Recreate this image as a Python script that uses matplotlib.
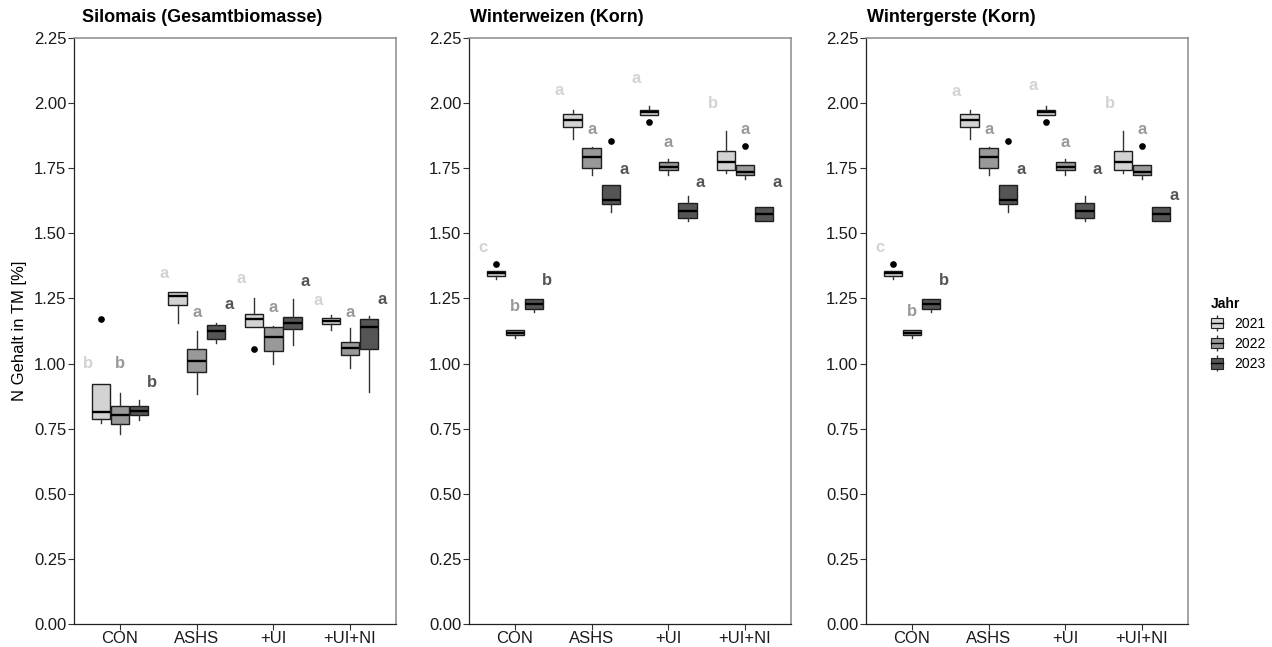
import numpy as np
import matplotlib
matplotlib.use("Agg")
import matplotlib.pyplot as plt
from matplotlib.patches import Patch
from matplotlib.lines import Line2D
from matplotlib.legend_handler import HandlerTuple

plt.rcParams['font.family'] = ['Liberation Sans', 'DejaVu Sans']

categories = ['CON', 'ASHS', '+UI', '+UI+NI']
years = ['2021', '2022', '2023']
fills = ['#d3d3d3', '#999999', '#555555']

# box stats, order: CON 21/22/23, ASHS 21/22/23, +UI ..., +UI+NI ...
mais_q1 = [0.786, 0.767, 0.801, 1.223, 0.966, 1.093, 1.142, 1.047, 1.132, 1.152, 1.033, 1.055]
mais_med = [0.815, 0.804, 0.819, 1.260, 1.011, 1.125, 1.170, 1.101, 1.155, 1.164, 1.059, 1.139]
mais_q3 = [0.922, 0.837, 0.837, 1.274, 1.055, 1.148, 1.192, 1.139, 1.179, 1.174, 1.084, 1.171]
mais_lo = [0.771, 0.730, 0.783, 1.155, 0.883, 1.078, 1.142, 0.998, 1.070, 1.129, 0.983, 0.890]
mais_hi = [0.922, 0.886, 0.860, 1.274, 1.126, 1.155, 1.253, 1.146, 1.248, 1.187, 1.135, 1.183]
mais_out = [[1.170], [], [], [], [], [], [1.057], [], [], [], [], []]
mais_letters = ['b', 'b', 'b', 'a', 'a', 'a', 'a', 'a', 'a', 'a', 'a', 'a']
mais_letter_y = [1.000, 1.000, 0.927, 1.347, 1.197, 1.225, 1.325, 1.215, 1.316, 1.244, 1.197, 1.247]

weizen_q1 = [1.336, 1.109, 1.211, 1.910, 1.750, 1.613, 1.954, 1.744, 1.558, 1.744, 1.723, 1.546]
weizen_med = [1.347, 1.119, 1.228, 1.935, 1.795, 1.628, 1.964, 1.756, 1.587, 1.772, 1.737, 1.574]
weizen_q3 = [1.357, 1.128, 1.247, 1.957, 1.829, 1.686, 1.974, 1.772, 1.618, 1.818, 1.763, 1.600]
weizen_lo = [1.324, 1.100, 1.199, 1.861, 1.724, 1.583, 1.954, 1.724, 1.549, 1.733, 1.708, 1.546]
weizen_hi = [1.357, 1.128, 1.247, 1.974, 1.833, 1.686, 1.987, 1.786, 1.644, 1.891, 1.763, 1.600]
weizen_out = [[1.382], [], [], [], [], [1.855], [1.927], [], [], [], [1.836], []]
weizen_letters = ['c', 'b', 'b', 'a', 'a', 'a', 'a', 'a', 'a', 'b', 'a', 'a']
weizen_letter_y = [1.447, 1.219, 1.318, 2.047, 1.897, 1.746, 2.096, 1.848, 1.695, 2.000, 1.897, 1.695]

# Wintergerste panel shows the same boxes, only the letters sit a bit differently
gerste_q1, gerste_med, gerste_q3 = weizen_q1, weizen_med, weizen_q3
gerste_lo, gerste_hi, gerste_out = weizen_lo, weizen_hi, weizen_out
gerste_letters = weizen_letters
gerste_letter_y = [1.447, 1.199, 1.318, 2.043, 1.897, 1.746, 2.067, 1.848, 1.746, 2.000, 1.897, 1.647]

panels = [
    ('Silomais (Gesamtbiomasse)', mais_q1, mais_med, mais_q3, mais_lo, mais_hi, mais_out, mais_letters, mais_letter_y),
    ('Winterweizen (Korn)', weizen_q1, weizen_med, weizen_q3, weizen_lo, weizen_hi, weizen_out, weizen_letters, weizen_letter_y),
    ('Wintergerste (Korn)', gerste_q1, gerste_med, gerste_q3, gerste_lo, gerste_hi, gerste_out, gerste_letters, gerste_letter_y),
]

fig = plt.figure(figsize=(12.72, 6.47), dpi=100)
W, H = 1272, 647
lefts = [74, 469, 866]
title_x = [82, 470, 867]

for p, (title, q1, med, q3, lo, hi, out, letters, ly) in enumerate(panels):
    ax = fig.add_axes([lefts[p] / W, (H - 624) / H, 322 / W, 586 / H])
    for i in range(12):
        c, y = divmod(i, 3)
        pos = c + 1 + (y - 1) * 0.25
        st = dict(med=med[i], q1=q1[i], q3=q3[i], whislo=lo[i], whishi=hi[i], fliers=out[i])
        ax.bxp([st], positions=[pos], widths=0.24, patch_artist=True, showcaps=False,
               boxprops=dict(facecolor=fills[y], edgecolor='#1e1e1e', linewidth=1.0),
               whiskerprops=dict(color='#333333', linewidth=1.0),
               medianprops=dict(color='black', linewidth=1.7),
               flierprops=dict(marker='o', markerfacecolor='black', markeredgecolor='black',
                               markersize=3.8))
        ax.text(c + 1 + (y - 1) * 0.42, ly[i], letters[i], color=fills[y], fontsize=12,
                fontweight='bold', ha='center', va='center')
    ax.set_xlim(0.4, 4.6)
    ax.set_ylim(0, 2.25)
    ax.set_xticks(range(1, 5))
    ax.set_xticklabels(categories)
    ax.set_yticks(np.arange(0, 2.26, 0.25))
    ax.set_yticklabels(['%.2f' % v for v in np.arange(0, 2.26, 0.25)])
    ax.tick_params(labelsize=12, length=4, width=0.8, color='#333333', labelcolor='#1a1a1a')
    ax.tick_params(axis='x', pad=0.8)
    ax.tick_params(axis='y', pad=1.5)
    for s in ['top', 'right']:
        ax.spines[s].set_color('#8a8a8a')
        ax.spines[s].set_linewidth(1.1)
    for s in ['left', 'bottom']:
        ax.spines[s].set_color('#222222')
        ax.spines[s].set_linewidth(0.9)
    fig.text(title_x[p] / W, 1 - 18 / H, title, fontsize=13, fontweight='bold', ha='left', va='center')

fig.text(20 / W, 1 - 331 / H, 'N Gehalt in TM [%]', rotation=90, fontsize=12, ha='center', va='center')

handles = []
for f in fills:
    handles.append((Line2D([0], [0], color='#333333', marker='|', markersize=11, linestyle='none'),
                    Patch(facecolor=f, edgecolor='#222222', linewidth=0.8),
                    Line2D([0], [0], color='black', linewidth=1.0)))
fig.legend(handles, years, title='Jahr', loc='upper left', bbox_to_anchor=(1198 / W, 1 - 284 / H),
           frameon=False, fontsize=10, title_fontproperties=dict(weight='bold', size=10),
           handlelength=0.9, handleheight=0.8, labelspacing=0.45, handletextpad=0.8,
           alignment='left', numpoints=1, handler_map={tuple: HandlerTuple(ndivide=1)})

plt.savefig('out.png', dpi=100)
